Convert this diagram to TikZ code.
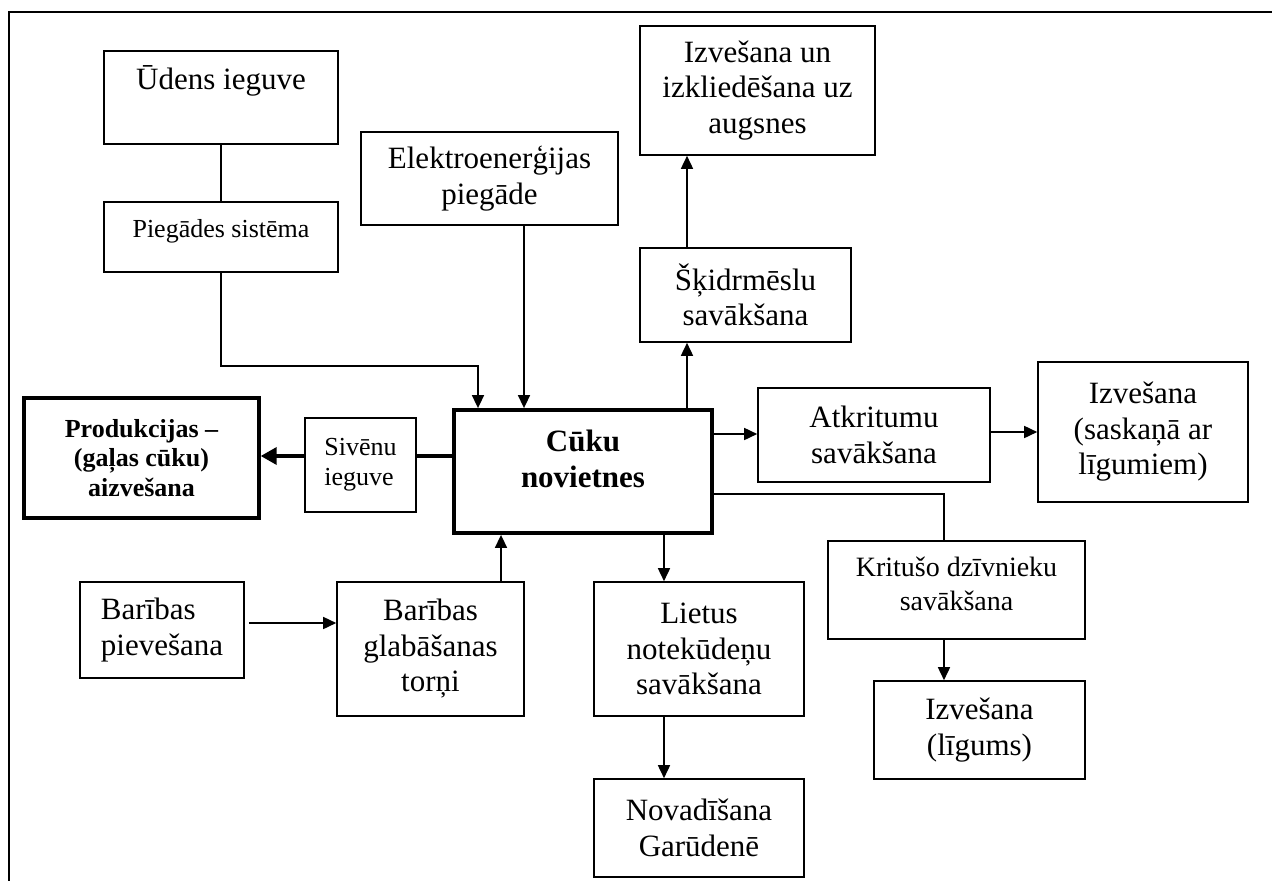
\documentclass[tikz,border=0pt]{standalone}
\usepackage{fontspec}
\setmainfont{Liberation Serif}
\usetikzlibrary{arrows.meta}
\begin{document}
\begin{tikzpicture}[x=1pt,y=-1pt,
  box/.style={draw, line width=1.6pt, inner sep=0pt, align=center},
  thickbox/.style={draw, line width=3.8pt, inner sep=0pt, align=center},
  txt/.style={inner sep=0pt, align=center},
  tA/.style={font=\fontsize{31}{35.5}\selectfont},
  tB/.style={font=\fontsize{26}{30}\selectfont},
  tK/.style={font=\fontsize{28}{33.5}\selectfont},
  tP/.style={font=\bfseries\fontsize{26}{29.5}\selectfont},
  tC/.style={font=\bfseries\fontsize{31}{35.5}\selectfont},
  ln/.style={line width=1.6pt},
  arr/.style={line width=1.6pt, -{Triangle[length=13pt,width=12pt]}},
  thickln/.style={line width=3.6pt},
  thickarr/.style={line width=3.6pt, -{Triangle[length=16pt,width=17pt]}}
]
\useasboundingbox (0,0) rectangle (1272,881);
% frame
\draw[line width=1.8pt] (9,881) -- (9,12) -- (1272,12);

% boxes
\node[box, minimum width=234pt, minimum height=93pt] (udens) at (221,97.5) {};
\node[txt, tA] (udens-t) at (221,80.5) {Ūdens ieguve};
\node[box, minimum width=234pt, minimum height=70pt] (piegades) at (221,237) {};
\node[txt, tB] (piegades-t) at (221,231) {Piegādes sistēma};
\node[box, tA, minimum width=257pt, minimum height=93pt] (elektro) at (489.5,178.5) {Elektroenerģijas\\piegāde};
\node[box, tA, minimum width=235pt, minimum height=129pt] (izv1) at (757.5,90.5) {Izvešana un\\izkliedēšana uz\\augsnes};
\node[box, tA, minimum width=211pt, minimum height=94pt] (skidr) at (745.5,295) {Šķidrmēslu\\savākšana};
\node[thickbox, minimum width=258pt, minimum height=123pt] (cuku) at (583,471.5) {};
\node[txt, tC] (cuku-t) at (583,459) {Cūku\\novietnes};
\node[thickbox, tP, line width=3.4pt, minimum width=235pt, minimum height=120pt] (produk) at (141.5,458) {Produkcijas –\\(gaļas cūku)\\aizvešana};
\node[box, tB, align=left, minimum width=111pt, minimum height=94pt] (sivenu) at (360.5,465) {Sivēnu\\ieguve};
\node[box, tA, minimum width=232pt, minimum height=94pt] (atkr) at (874,435) {Atkritumu\\savākšana};
\node[box, tA, minimum width=210pt, minimum height=140pt] (izv2) at (1143,432) {Izvešana\\(saskaņā ar\\līgumiem)};
\node[box, tA, align=left, minimum width=164pt, minimum height=96pt] (pieves) at (162,630) {Barības\\pievešana};
\node[box, tA, minimum width=187pt, minimum height=134pt] (glab) at (430.5,649) {Barības\\glabāšanas\\torņi};
\node[box, tA, minimum width=210pt, minimum height=134pt] (lietus) at (699,649) {Lietus\\notekūdeņu\\savākšana};
\node[box, tA, minimum width=210pt, minimum height=98pt] (novad) at (699,828) {Novadīšana\\Garūdenē};
\node[box, minimum width=257pt, minimum height=98pt] (kritus) at (956.5,590) {};
\node[txt, tK] (kritus-t) at (956.5,584) {Kritušo dzīvnieku\\savākšana};
\node[box, tA, minimum width=211pt, minimum height=98pt] (ligums) at (979.5,730) {Izvešana\\(līgums)};

% helper coordinates
\coordinate (xP) at (478,0);
\coordinate (xE) at (524,0);
\coordinate (xS) at (687,0);
\coordinate (xK) at (944,0);
\coordinate (xL) at (664,0);
\coordinate (xG) at (501,0);
\coordinate (yPi) at (0,366);
\coordinate (yA) at (0,434);
\coordinate (yB) at (0,432);
\coordinate (yK) at (0,494);
\coordinate (yF) at (0,623);
\coordinate (ySv) at (0,456);
\coordinate (pvs) at ([xshift=4pt]pieves.east);

% connectors
\draw[ln] (udens) -- (piegades);
\draw[arr] (piegades.south) |- (xP |- yPi) -- (xP |- cuku.north);
\draw[arr] (xE |- elektro.south) -- (xE |- cuku.north);
\draw[arr] (xS |- cuku.north) -- (xS |- skidr.south);
\draw[arr] (xS |- skidr.north) -- (xS |- izv1.south);
\draw[arr] (cuku.east |- yA) -- (atkr.west |- yA);
\draw[arr] (atkr.east |- yB) -- (izv2.west |- yB);
\draw[ln] (cuku.east |- yK) -| (xK |- kritus.north);
\draw[arr] (xK |- kritus.south) -- (xK |- ligums.north);
\draw[arr] (xL |- cuku.south) -- (xL |- lietus.north);
\draw[arr] (xL |- lietus.south) -- (xL |- novad.north);
\draw[arr] (xG |- glab.north) -- (xG |- cuku.south);
\draw[arr] (pvs |- yF) -- (glab.west |- yF);
\draw[thickln] (cuku.west |- ySv) -- (sivenu.east |- ySv);
\draw[thickarr] (sivenu.west |- ySv) -- (produk.east |- ySv);
\end{tikzpicture}
\end{document}
